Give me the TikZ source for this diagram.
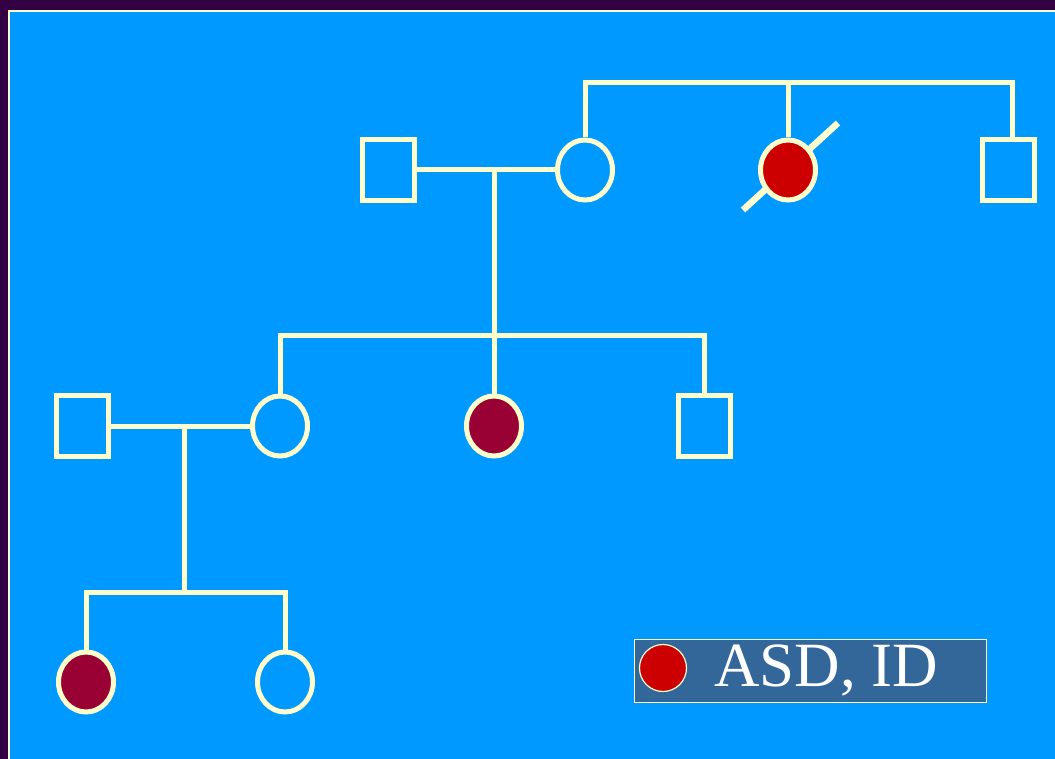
\documentclass[tikz,border=0pt]{standalone}
\usepackage{fontspec}
\setmainfont{Liberation Serif}
\usetikzlibrary{shapes.geometric}

\definecolor{framepurple}{HTML}{330044}
\definecolor{skyblue}{HTML}{0099FF}
\definecolor{cream}{HTML}{FFFFCC}
\definecolor{wine}{HTML}{990033}
\definecolor{brightred}{HTML}{CC0000}
\definecolor{slateblue}{HTML}{336699}

\tikzset{
  male/.style={rectangle, draw=cream, line width=5pt, inner sep=0pt,
               minimum width=52pt, minimum height=61pt},
  female/.style={ellipse, draw=cream, line width=5pt, inner sep=0pt,
                 minimum width=55pt, minimum height=60pt},
  affected/.style={fill=wine},
  link/.style={draw=cream, line width=5pt, line join=miter},
  deceased/.style={draw=cream, line width=6.5pt}
}

\begin{document}
\begin{tikzpicture}[x=1pt, y=-1pt]
  % page and frame
  \useasboundingbox (0,0) rectangle (1055,759);
  \fill[framepurple] (0,0) rectangle (1055,759);
  \fill[skyblue] (8,10) rectangle (1055,759);
  \draw[cream, line width=1.5pt] (9,759) -- (9,11) -- (1055,11);

  % ---------- generation I ----------
  \node[male] (g1m) at (388,170) {};
  \node[female] (g1f) at (585,170) {};
  \coordinate (g1ac) at (788,170);
  \draw[deceased] ([shift={(-45,40)}]g1ac) -- ([shift={(50,-47)}]g1ac);
  \node[female, fill=brightred] (g1a) at (g1ac) {};
  \node[male] (g1u) at (1008.5,170) {};

  % sibship of the mother's generation
  \coordinate (s1l) at (585,83);
  \coordinate (s1r) at (1012,83);
  \draw[link] (g1f.north) -- (s1l) -- (s1r) -- (s1r |- g1u.north);
  \draw[link] (g1a.north |- s1l) -- (g1a.north);

  % marriage and descent
  \draw[link] (g1m.east) -- (g1f.west);
  \coordinate (d1) at (494,170);

  % ---------- generation II ----------
  \node[male] (g2h) at (82.5,426) {};
  \node[female] (g2f) at (280,426) {};
  \node[female, affected] (g2a) at (494,426) {};
  \node[male] (g2b) at (704,426) {};

  \coordinate (s2l) at (280,336);
  \coordinate (s2r) at (704,336);
  \draw[link] (g2f.north) -- (s2l) -- (s2r) -- (g2b.north);
  \draw[link] (d1) -- (g2a.north);

  \draw[link] (g2h.east) -- (g2f.west);
  \coordinate (d2) at (184,426);

  % ---------- generation III ----------
  \node[female, affected] (g3a) at (86,682) {};
  \node[female] (g3f) at (285,682) {};

  \coordinate (s3l) at (86,592);
  \coordinate (s3r) at (285,592);
  \draw[link] (g3a.north) -- (s3l) -- (s3r) -- (g3f.north);
  \draw[link] (d2) -- (d2 |- s3l);

  % ---------- legend ----------
  \node[rectangle, draw=cream, fill=slateblue, line width=1.3pt,
        minimum width=352pt, minimum height=63pt, inner sep=0pt,
        anchor=north west] (legend) at (634,639) {};
  \node[circle, draw=cream, fill=brightred, line width=1.2pt,
        minimum size=47pt, inner sep=0pt] (legdot) at (663,668) {};
  \node[anchor=base west, inner sep=0pt, text=white,
        font=\fontsize{63}{63}\selectfont] (legtext) at (714,686) {ASD, ID};
\end{tikzpicture}
\end{document}
